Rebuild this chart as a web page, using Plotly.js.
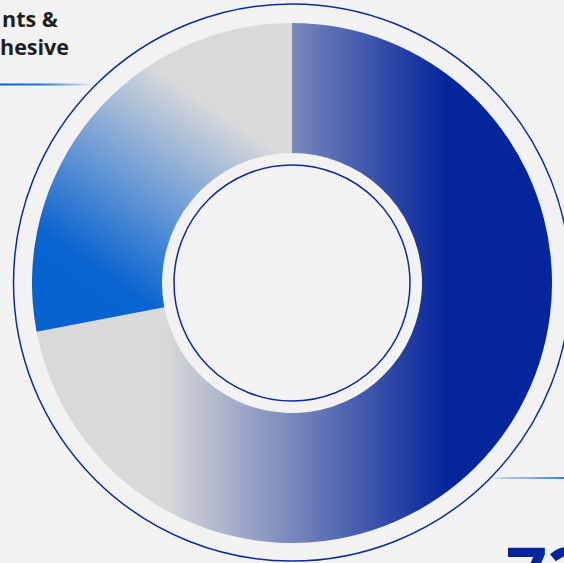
<!DOCTYPE html>
<html>
<head>
<meta charset="utf-8">
<script src="https://cdn.plot.ly/plotly-3.0.1.min.js"></script>
<style>
html,body{margin:0;padding:0;background:#f2f2f2;overflow:hidden;}
#chart{width:564px;height:563px;}
</style>
</head>
<body>
<div id="chart"></div>
<script>
// ---- data ----
const sliceLabels = ["Share", "Remainder"];
const sliceValues = [72, 28];
const headingLines = ["nts &", "hesive"];
const bigValueLabel = "72%";

// ---- geometry (pixels) ----
const W = 564, H = 563;
const cx = 292, cy = 283, R = 260;
const px = x => x / W;
const py = y => (H - y) / H;

const trace = {
  type: "pie",
  labels: sliceLabels,
  values: sliceValues,
  sort: false,
  direction: "clockwise",
  rotation: 0,
  hole: 0.5,
  textinfo: "none",
  hoverinfo: "none",
  marker: { colors: ["#5a6cb0", "#5b8fd4"], line: { width: 0 } },
  domain: { x: [px(cx - R), px(cx + R)], y: [py(cy + R), py(cy - R)] }
};

const ringColor = "#0a2a9e";
function circleShape(r, w) {
  return { type: "circle", xref: "paper", yref: "paper",
    x0: px(cx - r), x1: px(cx + r), y0: py(cy + r), y1: py(cy - r),
    line: { color: ringColor, width: w }, layer: "above" };
}

const headFont = { family: "Open Sans", size: 21.5, color: "#1f1f1f", weight: 700 };

const layout = {
  width: W, height: H,
  margin: { l: 0, r: 0, t: 0, b: 0 },
  paper_bgcolor: "#f2f2f2",
  plot_bgcolor: "#f2f2f2",
  showlegend: false,
  shapes: [
    circleShape(118, 1.5),
    { type: "circle", xref: "paper", yref: "paper",
      x0: px(cx - 278.5), x1: px(cx + 278.5), y0: py(cy - 0.5 + 278.5), y1: py(cy - 0.5 - 278.5),
      line: { color: ringColor, width: 1.5 } },
    { type: "line", xref: "paper", yref: "paper", x0: 0, x1: px(95), y0: py(84.5), y1: py(84.5),
      line: { color: "#0a5fcc", width: 2 } },
    { type: "line", xref: "paper", yref: "paper", x0: px(490), x1: 1, y0: py(478), y1: py(478),
      line: { color: "#3a7ad8", width: 2 } }
  ],
  annotations: [
    { text: headingLines[0], xref: "paper", yref: "paper", x: 0, y: py(18), xanchor: "left", yanchor: "middle",
      xshift: 0, showarrow: false, font: headFont },
    { text: headingLines[1], xref: "paper", yref: "paper", x: 0, y: py(46), xanchor: "left", yanchor: "middle",
      xshift: -2, showarrow: false, font: headFont },
    { text: bigValueLabel, xref: "paper", yref: "paper", x: px(504), y: py(570.5), xanchor: "left", yanchor: "middle",
      showarrow: false, font: { family: "Open Sans", size: 72, color: "#06259b", weight: 700 } }
  ]
};

function addGradient(defs, id, x1, y1, x2, y2, stops) {
  const ns = "http://www.w3.org/2000/svg";
  const g = document.createElementNS(ns, "linearGradient");
  g.setAttribute("id", id);
  g.setAttribute("gradientUnits", "userSpaceOnUse");
  g.setAttribute("x1", x1); g.setAttribute("y1", y1);
  g.setAttribute("x2", x2); g.setAttribute("y2", y2);
  stops.forEach(s => {
    const st = document.createElementNS(ns, "stop");
    st.setAttribute("offset", s[0]);
    st.setAttribute("stop-color", s[1]);
    st.setAttribute("stop-opacity", s[2] === undefined ? 1 : s[2]);
    g.appendChild(st);
  });
  defs.appendChild(g);
}

Plotly.newPlot("chart", [trace], layout, { staticPlot: true, displayModeBar: false }).then(gd => {
  const svg = gd.querySelector(".main-svg");
  let defs = svg.querySelector("defs");
  if (!defs) { defs = document.createElementNS("http://www.w3.org/2000/svg", "defs"); svg.insertBefore(defs, svg.firstChild); }
  addGradient(defs, "gSlice1", 165, 0, 445, 0, [[0, "#d9d9d9"], [1, "#05259b"]]);
  addGradient(defs, "gSlice2", 92, 298, 220, 112, [[0, "#0563d0"], [0.12, "#0a64d0"], [1, "#d9d9d9"]]);
  addGradient(defs, "gLineL", 0, 0, 95, 0, [[0, "#0a5fcc"], [0.4, "#1f6fd2"], [1, "#0a5fcc", 0]]);
  addGradient(defs, "gLineR", 490, 0, 564, 0, [[0, "#3a7ad8", 0], [0.5, "#8fb2e6"], [1, "#3a7ad8"]]);
  const slices = gd.querySelectorAll("g.slice path.surface");
  if (slices[0]) slices[0].style.fill = "url(#gSlice1)";
  if (slices[1]) slices[1].style.fill = "url(#gSlice2)";
  const shapePaths = gd.querySelectorAll(".shapelayer path");
  shapePaths.forEach(p => {
    const idx = p.getAttribute("data-index");
    if (idx === "2") p.style.stroke = "url(#gLineL)";
    if (idx === "3") p.style.stroke = "url(#gLineR)";
  });
});
</script>
</body>
</html>
